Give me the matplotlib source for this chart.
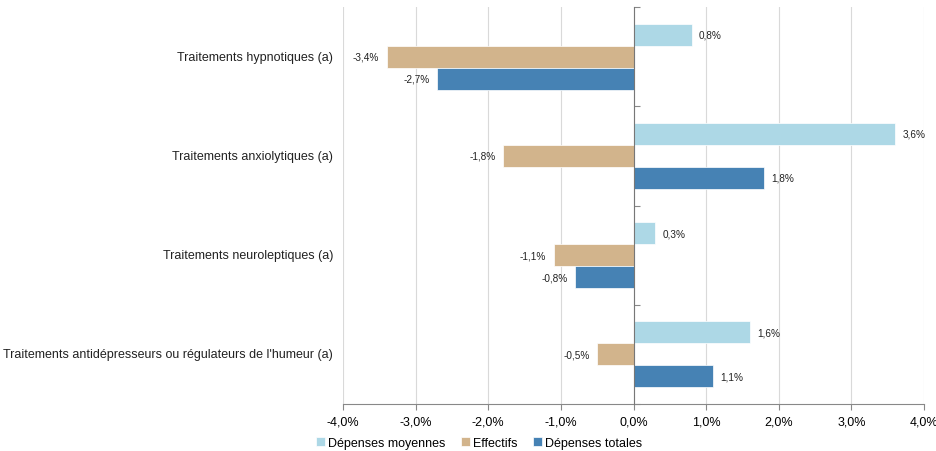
import matplotlib.pyplot as plt
import matplotlib.transforms as mtransforms
import numpy as np

plt.rcParams['font.family'] = ['Liberation Sans', 'DejaVu Sans']

categories = [
    "Traitements hypnotiques (a)",
    "Traitements anxiolytiques (a)",
    "Traitements neuroleptiques (a)",
    "Traitements antidépresseurs ou régulateurs de l'humeur (a)",
]
series_names = ["Dépenses moyennes", "Effectifs", "Dépenses totales"]
depenses_moyennes = [0.8, 3.6, 0.3, 1.6]
effectifs = [-3.4, -1.8, -1.1, -0.5]
depenses_totales = [-2.7, 1.8, -0.8, 1.1]
colors = ["#ADD8E6", "#D2B48C", "#4682B4"]
x_ticks = [-4, -3, -2, -1, 0, 1, 2, 3, 4]


def fmt(v):
    return f"{v:.1f}%".replace(".", ",")


fig = plt.figure(figsize=(9.36, 4.52), dpi=100)
ax = fig.add_axes([0.3665, 0.104, 0.6207, 0.878])

y = np.arange(len(categories))
h = 0.222
all_series = [depenses_moyennes, effectifs, depenses_totales]
for k, (vals, name, col) in enumerate(zip(all_series, series_names, colors)):
    pos = y + (k - 1) * h
    ax.barh(pos, vals, height=h, color=col, edgecolor="white", linewidth=0.5,
            label=name, zorder=3)
    for p, v in zip(pos, vals):
        off = 0.1 if v >= 0 else -0.1
        ax.text(v + off, p, fmt(v), ha="left" if v >= 0 else "right",
                va="center", fontsize=7.2, color="#222222")

ax.set_xlim(-4, 4)
ax.set_ylim(3.5, -0.5)
ax.set_xticks(x_ticks)
ax.set_xticklabels([fmt(t) for t in x_ticks], fontsize=9)
ax.xaxis.grid(True, color="#D9D9D9", linewidth=0.8, zorder=0)
ax.tick_params(axis="x", length=4, color="#888888", pad=4)

ax.spines["top"].set_visible(False)
ax.spines["right"].set_visible(False)
ax.spines["bottom"].set_color("#888888")
ax.spines["left"].set_position(("data", 0))
ax.spines["left"].set_color("#777777")
ax.spines["left"].set_zorder(4)

ax.set_yticks(np.arange(-0.5, len(categories), 1.0))
ax.set_yticklabels([])
ax.tick_params(axis="y", direction="in", length=4, color="#888888")

trans = mtransforms.blended_transform_factory(ax.transAxes, ax.transData)
for yi, cat in zip(y, categories):
    ax.text(-0.017, yi, cat, transform=trans, ha="right", va="center",
            fontsize=9, color="#222222")

fig.legend(loc="center", bbox_to_anchor=(0.512, 0.018), ncol=3, frameon=False,
           fontsize=9, handlelength=0.7, handleheight=0.7, handletextpad=0.3,
           columnspacing=1.2, borderaxespad=0)

fig.savefig("out.png", dpi=100)
